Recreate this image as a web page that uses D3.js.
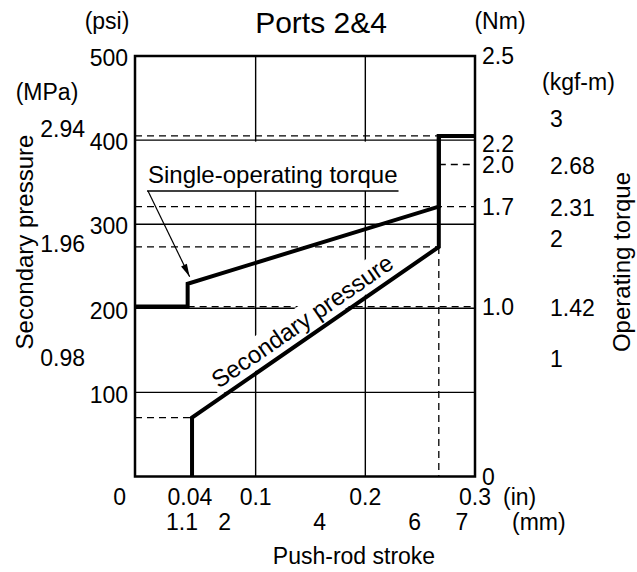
<!DOCTYPE html>
<html>
<head>
<meta charset="utf-8">
<script src="https://cdn.jsdelivr.net/npm/d3@7"></script>
<style>
  body { margin: 0; background: #fff; }
  svg { display: block; }
  text { font-family: "Liberation Sans", Arial, Helvetica, sans-serif; fill: #000; }
</style>
</head>
<body>
<svg id="chart" width="637" height="572"></svg>
<script>
// ---- data ----------------------------------------------------------------
// push-rod stroke ticks (inches) and their labels
const strokeTicksIn = [0, 0.04, 0.1, 0.2, 0.3];
const strokeTickLabelsIn = ["0", "0.04", "0.1", "0.2", "0.3"];
// push-rod stroke ticks (mm)
const strokeTicksMm = [1.1, 2, 4, 6, 7];
// secondary pressure ticks (psi) and MPa equivalents
const psiTicks = [100, 200, 300, 400, 500];
const mpaTicks = [0.98, 1.96, 2.94];
// operating torque scale: Nm levels and the psi level each one sits on
const nmLevels = [0, 1.0, 1.7, 2.0, 2.2, 2.5];
const nmLevelPsi = [0, 202, 321, 371, 405, 500];
const nmTickLabels = ["0", "1.0", "1.7", "2.0", "2.2", "2.5"];
// kgf-m column: round ticks and the values paired with Nm ticks
const kgfTicks = [1, 2, 3];
const kgfPairedNm = [1.0, 1.7, 2.0];
const kgfPairedLabels = ["1.42", "2.31", "2.68"];
// grid
const gridIn = [0.1, 0.2];
const gridPsi = [100, 200, 300, 400];
// curves
const pressureIn = [0.042, 0.042, 0.267, 0.267, 0.3];
const pressurePsi = [0, 70, 273, 405, 405];
const torqueIn = [-0.01, 0.038, 0.038, 0.267, 0.267, 0.3];
const torqueNm = [1.0, 1.0, 1.16, 1.7, 2.2, 2.2];

// ---- layout ----------------------------------------------------------------
const svg = d3.select("#chart");
const frame = { left: 135, right: 475, top: 56, bottom: 476.5 };
const FS = 23;

const x = d3.scaleLinear().domain([-0.01, 0.3]).range([frame.left, frame.right]);
const y = d3.scaleLinear().domain([0, 500]).range([frame.bottom, frame.top]);
const nm = d3.scaleLinear().domain(nmLevels).range(nmLevelPsi.map(y));
const mpa = d3.scaleLinear().domain([0.98, 2.94]).range([y(141), y(413)]);
const kgf = d3.scaleLinear().domain([1, 3]).range([y(140), y(425)]);
const mm = d3.scaleLinear().domain([1.1, 7]).range([182, 462]);

function text(parent, str, px, pyCenter, anchor, size) {
  const s = size || FS;
  return parent.append("text")
    .attr("x", px)
    .attr("y", pyCenter + s * 0.36)
    .attr("text-anchor", anchor || "start")
    .attr("font-size", s)
    .text(str);
}

// ---- grid ------------------------------------------------------------------
const grid = svg.append("g").attr("stroke", "#000").attr("stroke-width", 1.4);
grid.selectAll("line.h").data(gridPsi).join("line")
  .attr("x1", frame.left).attr("x2", frame.right)
  .attr("y1", d => y(d)).attr("y2", d => y(d));
grid.selectAll("line.v").data(gridIn).join("line")
  .attr("y1", frame.top).attr("y2", frame.bottom)
  .attr("x1", d => x(d)).attr("x2", d => x(d));

// ---- dashed guides ---------------------------------------------------------
const stepIn = pressureIn[2];
const guides = [
  { x1: frame.left, x2: x(stepIn), y1: y(pressurePsi[3]), y2: y(pressurePsi[3]) },
  { x1: x(stepIn), x2: frame.right, y1: nm(2.0), y2: nm(2.0) },
  { x1: frame.left, x2: frame.right, y1: nm(torqueNm[3]), y2: nm(torqueNm[3]) },
  { x1: frame.left, x2: x(stepIn), y1: y(pressurePsi[2]), y2: y(pressurePsi[2]) },
  { x1: x(torqueIn[1]), x2: frame.right, y1: nm(torqueNm[0]), y2: nm(torqueNm[0]) },
  { x1: frame.left, x2: x(pressureIn[1]), y1: y(pressurePsi[1]), y2: y(pressurePsi[1]) },
  { x1: x(stepIn), x2: x(stepIn), y1: y(pressurePsi[2]), y2: frame.bottom }
];
svg.append("g").attr("stroke", "#000").attr("stroke-width", 1.3)
  .attr("stroke-dasharray", "7,5")
  .selectAll("line").data(guides).join("line")
  .attr("x1", d => d.x1).attr("x2", d => d.x2)
  .attr("y1", d => d.y1).attr("y2", d => d.y2);

// ---- in-plot annotations ---------------------------------------------------
// "Single-operating torque" with underline and leader arrow
const ann = svg.append("g");
const annText = ann.append("text")
  .attr("x", 148).attr("y", 183).attr("font-size", 24)
  .text("Single-operating torque");
const ab = annText.node().getBBox();
ann.insert("rect", "text")
  .attr("x", ab.x - 4).attr("y", y(400) + 1.5)
  .attr("width", ab.width + 8).attr("height", ab.y + ab.height + 3 - (y(400) + 1.5))
  .attr("fill", "#fff");
const ulY = ab.y + ab.height + 3;
ann.append("line")
  .attr("x1", ab.x - 1).attr("x2", ab.x + ab.width + 1)
  .attr("y1", ulY).attr("y2", ulY)
  .attr("stroke", "#000").attr("stroke-width", 1.3);

const tip = [x(torqueIn[2]) + 2, nm(torqueNm[2]) - 7];
const start = [ab.x, ulY];
ann.append("line")
  .attr("x1", start[0]).attr("y1", start[1])
  .attr("x2", tip[0]).attr("y2", tip[1])
  .attr("stroke", "#000").attr("stroke-width", 1.2);
{
  const dx = tip[0] - start[0], dy = tip[1] - start[1];
  const len = Math.hypot(dx, dy), ux = dx / len, uy = dy / len;
  const L = 13, Wd = 3.2;
  const bx = tip[0] - ux * L, by = tip[1] - uy * L;
  ann.append("path")
    .attr("d", `M${tip[0]},${tip[1]}L${bx - uy * Wd},${by + ux * Wd}L${bx + uy * Wd},${by - ux * Wd}Z`)
    .attr("fill", "#000");
}

// "Secondary pressure" laid along the pressure ramp
{
  const p1 = [x(pressureIn[1]), y(pressurePsi[1])];
  const p2 = [x(pressureIn[2]), y(pressurePsi[2])];
  const ang = Math.atan2(p2[1] - p1[1], p2[0] - p1[0]);
  const t = 0.485, off = 17;
  const px = p1[0] + (p2[0] - p1[0]) * t + Math.sin(ang) * off;
  const py = p1[1] + (p2[1] - p1[1]) * t - Math.cos(ang) * off;
  const g = svg.append("g")
    .attr("transform", `translate(${px},${py}) rotate(${ang * 180 / Math.PI})`);
  const tx = g.append("text").attr("x", 0).attr("y", 24 * 0.36)
    .attr("text-anchor", "middle").attr("font-size", 24)
    .text("Secondary pressure");
  const b = tx.node().getBBox();
  g.insert("rect", "text")
    .attr("x", b.x - 3).attr("y", b.y - 1)
    .attr("width", b.width + 6).attr("height", b.height + 2)
    .attr("fill", "#fff");
}

// ---- curves ----------------------------------------------------------------
const line = d3.line();
svg.append("path")
  .attr("d", line(pressureIn.map((v, i) => [x(v), y(pressurePsi[i])])))
  .attr("fill", "none").attr("stroke", "#000").attr("stroke-width", 4)
  .attr("stroke-linejoin", "miter");
svg.append("path")
  .attr("d", line(torqueIn.map((v, i) => [x(v), nm(torqueNm[i])])))
  .attr("fill", "none").attr("stroke", "#000").attr("stroke-width", 4)
  .attr("stroke-linejoin", "miter");

// ---- frame -----------------------------------------------------------------
svg.append("rect")
  .attr("x", frame.left).attr("y", frame.top)
  .attr("width", frame.right - frame.left).attr("height", frame.bottom - frame.top)
  .attr("fill", "none").attr("stroke", "#000").attr("stroke-width", 2.5);

// ---- title -----------------------------------------------------------------
text(svg, "Ports 2&4", 321, 22, "middle", 30);

// ---- left axes -------------------------------------------------------------
const left = svg.append("g");
text(left, "(psi)", 107, 21, "middle");
psiTicks.forEach(v => text(left, v, 128, y(v) + 2, "end"));
text(left, "(MPa)", 47, 92, "middle");
mpaTicks.forEach(v => text(left, d3.format(".2f")(v), 85, mpa(v), "end"));
left.append("text")
  .attr("transform", `translate(33,242) rotate(-90)`)
  .attr("text-anchor", "middle").attr("font-size", 24)
  .text("Secondary pressure");

// ---- right axes ------------------------------------------------------------
const right = svg.append("g");
text(right, "(Nm)", 500, 21, "middle");
nmLevels.forEach((v, i) => {
  const nudge = v === 2.2 ? 8 : 0;
  text(right, nmTickLabels[i], 482, nm(v) + nudge, "start");
});
text(right, "(kgf-m)", 542, 82, "start");
kgfTicks.forEach(v => text(right, v, 550, kgf(v), "start"));
kgfPairedNm.forEach((v, i) => text(right, kgfPairedLabels[i], 550, nm(v) + 1, "start"));
right.append("text")
  .attr("transform", `translate(630,262) rotate(-90)`)
  .attr("text-anchor", "middle").attr("font-size", 24)
  .text("Operating torque");

// ---- bottom axes -----------------------------------------------------------
const bottom = svg.append("g");
strokeTicksIn.forEach((v, i) => {
  if (v === 0) text(bottom, strokeTickLabelsIn[i], x(v) - 20, 497, "end");
  else text(bottom, strokeTickLabelsIn[i], x(v), 497, "middle");
});
text(bottom, "(in)", 503, 497, "start");
strokeTicksMm.forEach(v => text(bottom, v, mm(v), 522, "middle"));
text(bottom, "(mm)", 512, 522, "start");
text(bottom, "Push-rod stroke", 354, 556, "middle");
</script>
</body>
</html>
